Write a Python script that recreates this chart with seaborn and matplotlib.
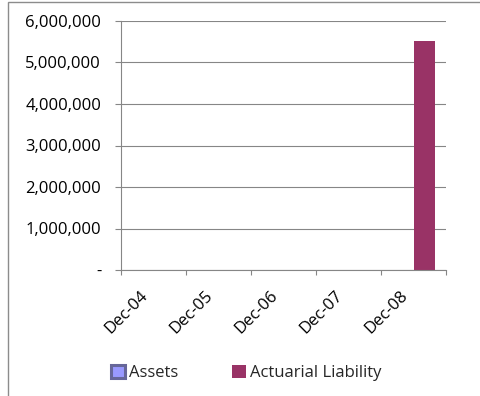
import matplotlib
matplotlib.use("Agg")
import matplotlib.pyplot as plt
import matplotlib.transforms as mtransforms
from matplotlib.patches import Patch, Rectangle
from matplotlib.ticker import FixedLocator, FuncFormatter
import pandas as pd
import seaborn as sns

# Data
periods = ["Dec-04", "Dec-05", "Dec-06", "Dec-07", "Dec-08"]
assets = [0, 0, 0, 0, 0]
actuarial_liability = [0, 0, 0, 0, 5530000]
series_names = ["Assets", "Actuarial Liability"]
y_ticks = [0, 1000000, 2000000, 3000000, 4000000, 5000000, 6000000]

colors = {"Assets": "#9999FF", "Actuarial Liability": "#993366"}

df = pd.DataFrame({
    "Period": periods * 2,
    "Series": [series_names[0]] * len(periods) + [series_names[1]] * len(periods),
    "Value": assets + actuarial_liability,
})

sns.set_style("white")
plt.rcParams["font.family"] = ["Open Sans", "DejaVu Sans"]

fig = plt.figure(figsize=(4.8, 3.96), dpi=100)
ax = fig.add_axes([121 / 480, 1 - 270 / 396, (446 - 121) / 480, (270 - 21) / 396])

sns.barplot(data=df, x="Period", y="Value", hue="Series", order=periods,
            hue_order=series_names, palette=colors, width=0.66,
            linewidth=0, saturation=1, ax=ax, legend=False)

ax.set_xlim(-0.5, len(periods) - 0.5)
ax.set_ylim(0, 6000000)
ax.set_xlabel("")
ax.set_ylabel("")

grid_color = "#868686"
ax.yaxis.set_major_locator(FixedLocator(y_ticks))
ax.yaxis.set_major_formatter(FuncFormatter(lambda v, p: "-" if v == 0 else f"{int(v):,}"))
ax.grid(axis="y", color=grid_color, linewidth=0.8)
ax.set_axisbelow(True)

for side in ["top", "right"]:
    ax.spines[side].set_visible(False)
for side in ["left", "bottom"]:
    ax.spines[side].set_color(grid_color)
    ax.spines[side].set_linewidth(0.8)

ax.tick_params(axis="y", direction="out", length=4.3, width=0.8, color=grid_color,
               labelsize=12, labelcolor="#000000", pad=10, left=True)

# x: tick marks on category boundaries, labels at centres
ax.set_xticks(range(len(periods)))
ax.set_xticklabels(periods, rotation=45, ha="right", va="center", rotation_mode="anchor")
ax.set_xticks([i - 0.5 for i in range(len(periods) + 1)], minor=True)
ax.tick_params(axis="x", which="major", length=0, labelsize=12, labelcolor="#000000", pad=17)
ax.tick_params(axis="x", which="minor", direction="out", length=3.6, width=0.8,
               color=grid_color, bottom=True)
shift = mtransforms.ScaledTranslation(-6 / 72, 0, fig.dpi_scale_trans)
for lbl in ax.get_xticklabels():
    lbl.set_transform(lbl.get_transform() + shift)

handles = [
    Patch(facecolor=colors["Assets"], edgecolor="#666699", linewidth=2.2, label="Assets"),
    Patch(facecolor=colors["Actuarial Liability"], edgecolor=colors["Actuarial Liability"],
          linewidth=0, label="Actuarial Liability"),
]
fig.legend(handles=handles, loc="center", bbox_to_anchor=(246 / 480, 1 - 373 / 396),
           ncol=2, frameon=False, fontsize=12, handlelength=0.85, handleheight=0.85,
           handletextpad=0.25, columnspacing=3.2, borderpad=0)

# Chart frame (left and top edges visible)
fig.patches.append(Rectangle((7.5 / 480, -0.5), 2.0, 1.5 - 1.5 / 396, transform=fig.transFigure,
                             fill=False, edgecolor="#8c8c8c", linewidth=1.0))

fig.savefig("out.png", dpi=100)
